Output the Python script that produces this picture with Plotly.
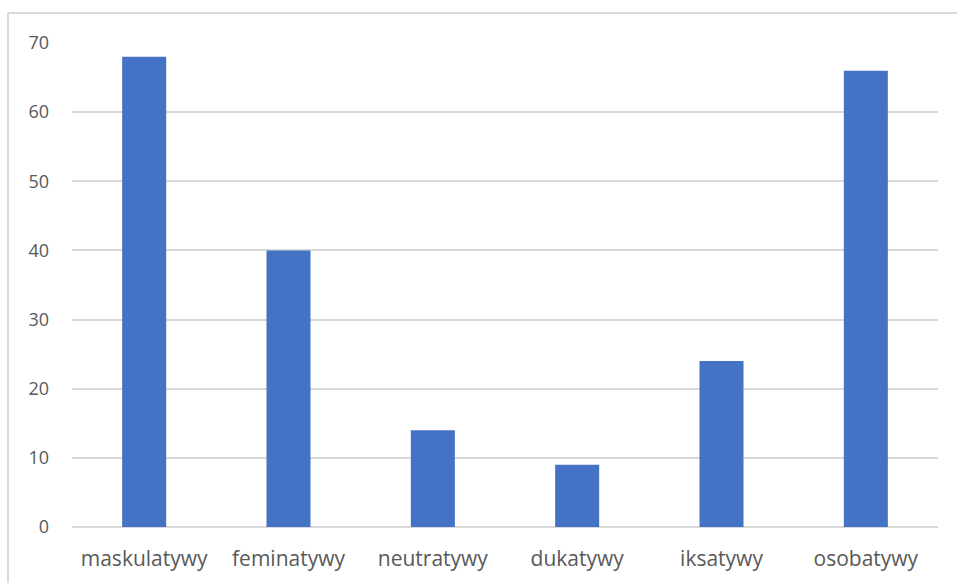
import plotly.graph_objects as go

# Counts per word form
categories = ["maskulatywy", "feminatywy", "neutratywy", "dukatywy", "iksatywy", "osobatywy"]
counts = [68, 40, 14, 9, 24, 66]
y_ticks = [0, 10, 20, 30, 40, 50, 60, 70]

W, H = 957, 583
L, R, T, B = 72, 19, 43, 56

fig = go.Figure(
    go.Bar(
        x=categories,
        y=counts,
        marker=dict(color="#4472C4", line=dict(width=0)),
        hoverinfo="x+y",
    )
)

family = "Open Sans, Noto Sans, sans-serif"
y_font = dict(family=family, size=18, color="#595959")
x_font = dict(family=family, size=21, color="#595959")

fig.update_layout(
    width=W,
    height=H,
    margin=dict(l=L, r=R, t=T, b=B, pad=0),
    paper_bgcolor="white",
    plot_bgcolor="white",
    bargap=0.695,
    showlegend=False,
    font=y_font,
    xaxis=dict(
        showgrid=False,
        showline=False,
        zeroline=False,
        ticks="",
        tickfont=x_font,
        ticklabelstandoff=17,
        fixedrange=True,
    ),
    yaxis=dict(
        range=[0, 70],
        tickvals=y_ticks,
        showgrid=True,
        gridcolor="#d9d9d9",
        gridwidth=1.5,
        zeroline=True,
        zerolinecolor="#d9d9d9",
        zerolinewidth=1.5,
        showline=False,
        ticks="",
        tickfont=y_font,
        ticklabelstandoff=22,
        fixedrange=True,
    ),
)

# Chart-area frame (top and left edges)
pw, ph = W - L - R, H - T - B
x0 = (8 - L) / pw
y0 = (H - B - 13) / ph
fig.add_shape(type="line", xref="paper", yref="paper",
              x0=x0, x1=(W + 10 - L) / pw, y0=y0, y1=y0,
              line=dict(color="#d9d9d9", width=2))
fig.add_shape(type="line", xref="paper", yref="paper",
              x0=x0, x1=x0, y0=y0, y1=-(B + 10) / ph,
              line=dict(color="#d9d9d9", width=2))

fig.write_html("out.html", config={"displayModeBar": False})
